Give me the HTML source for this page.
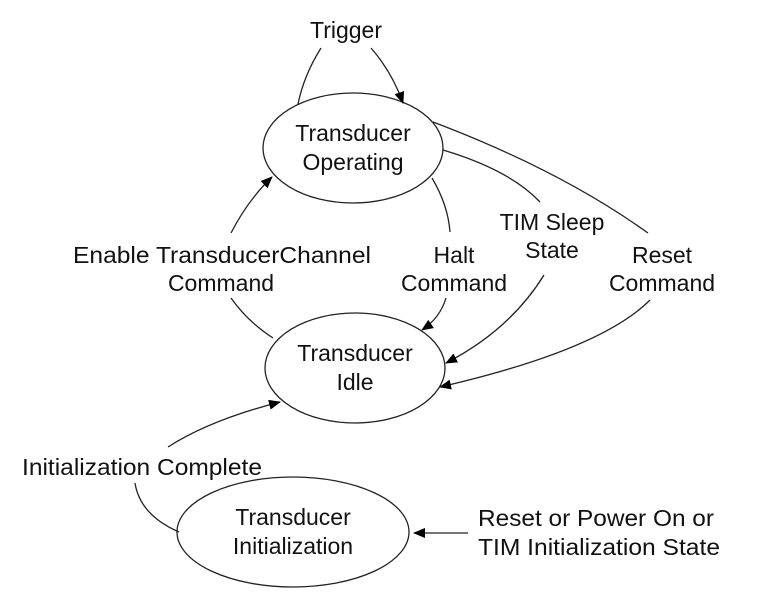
<!DOCTYPE html>
<html><head><meta charset="utf-8"><style>
html,body{margin:0;padding:0;background:#fff;}
svg{display:block;}
text{font-family:"Liberation Sans",Arial,sans-serif;font-size:23px;fill:#111;}
</style></head><body>
<svg width="776" height="602" viewBox="0 0 776 602" xmlns="http://www.w3.org/2000/svg">
<defs><marker id="a" markerWidth="12" markerHeight="10" refX="11" refY="5" orient="auto" markerUnits="userSpaceOnUse"><path d="M0,0 L12,5 L0,10 z" fill="#000"/></marker></defs>
<g fill="none" stroke="#222" stroke-width="1.3">
<ellipse cx="353" cy="148" rx="90" ry="55"/>
<ellipse cx="355" cy="368" rx="90" ry="55"/>
<ellipse cx="293" cy="532" rx="116" ry="55"/>
<!-- trigger -->
<path d="M321,48 Q304,75 298,104"/>
<path d="M371,48 Q392,72 403,103" marker-end="url(#a)"/>
<!-- enable -->
<path d="M231,233 Q248,200 272,177" marker-end="url(#a)"/>
<path d="M231,298 Q248,322 273,338"/>
<!-- halt -->
<path d="M432,178 Q448,205 450,232"/>
<path d="M446,298 Q440,318 422,330" marker-end="url(#a)"/>
<!-- tim sleep -->
<path d="M443,150 Q510,170 540,202"/>
<path d="M544,275 Q510,330 446,363" marker-end="url(#a)"/>
<!-- reset -->
<path d="M433,122 Q560,170 648,233"/>
<path d="M650,300 Q600,350 440,387" marker-end="url(#a)"/>
<!-- init complete -->
<path d="M168,447 Q210,420 280,402" marker-end="url(#a)"/>
<path d="M135,483 Q140,515 179,532"/>
<!-- reset power -->
<path d="M468,533 L414,533" marker-end="url(#a)"/>
</g>
<text x="346" y="38" text-anchor="middle">Trigger</text>
<text x="353" y="141" text-anchor="middle">Transducer</text>
<text x="353" y="170" text-anchor="middle">Operating</text>
<text x="355" y="361" text-anchor="middle">Transducer</text>
<text x="355" y="390" text-anchor="middle">Idle</text>
<text x="293" y="525" text-anchor="middle">Transducer</text>
<text x="293" y="554" text-anchor="middle">Initialization</text>
<text x="73" y="263" textLength="298" lengthAdjust="spacingAndGlyphs">Enable TransducerChannel</text>
<text x="221" y="291" text-anchor="middle">Command</text>
<text x="454" y="263" text-anchor="middle">Halt</text>
<text x="454" y="291" text-anchor="middle">Command</text>
<text x="552" y="230" text-anchor="middle">TIM Sleep</text>
<text x="552" y="258" text-anchor="middle">State</text>
<text x="662" y="263" text-anchor="middle">Reset</text>
<text x="662" y="291" text-anchor="middle">Command</text>
<text x="22" y="475" textLength="240" lengthAdjust="spacingAndGlyphs">Initialization Complete</text>
<text x="478" y="526" textLength="236" lengthAdjust="spacingAndGlyphs">Reset or Power On or</text>
<text x="478" y="555" textLength="242" lengthAdjust="spacingAndGlyphs">TIM Initialization State</text>
</svg>
</body></html>
